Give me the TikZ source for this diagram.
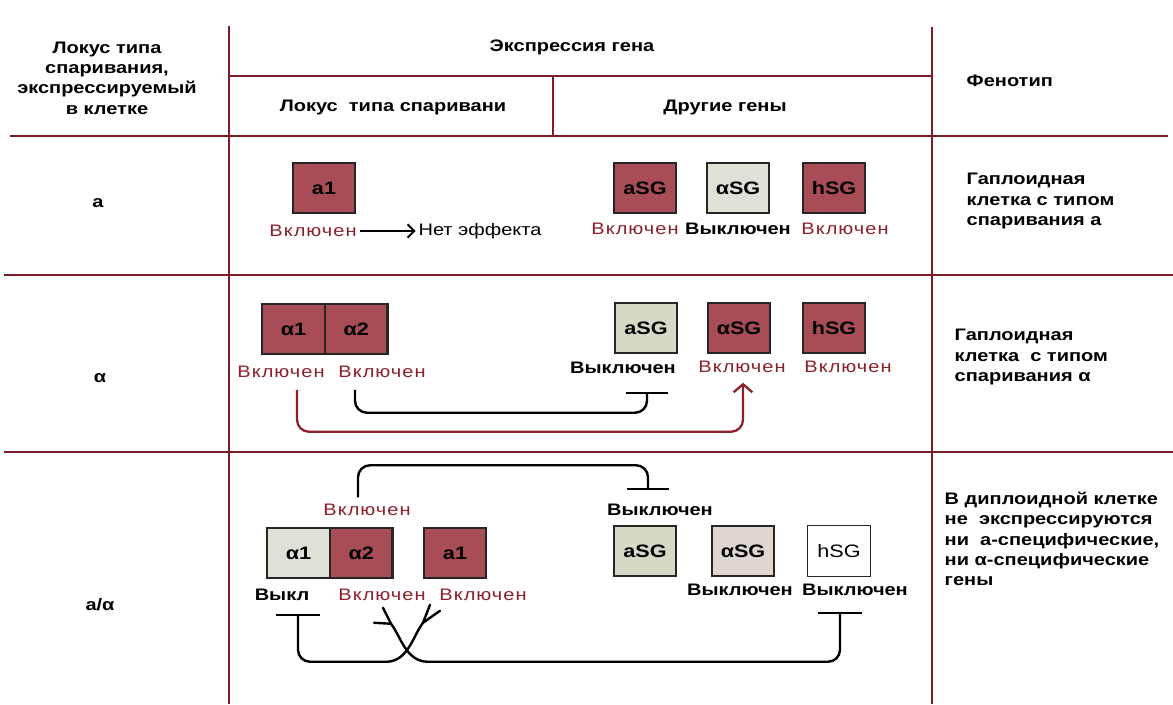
\documentclass[tikz,border=0pt]{standalone}
\usepackage{fontspec}
\setmainfont{Liberation Sans}[FakeStretch=1.2]
\newfontfamily\labfont{Liberation Sans}[FakeStretch=1.2,LetterSpace=6]
\usetikzlibrary{arrows.meta,positioning,calc}
\newcommand\bodysize{\fontsize{12.5}{15.2}\selectfont}
\newcommand\genesize{\fontsize{13.5}{15}\selectfont}
\definecolor{geneRed}{RGB}{168,76,86}
\definecolor{offGrey}{RGB}{222,225,213}
\definecolor{offGreen}{RGB}{213,217,198}
\definecolor{offPink}{RGB}{223,214,208}
\definecolor{labRed}{RGB}{140,32,44}
\definecolor{tabRed}{RGB}{125,28,38}
\tikzset{tab/.style={draw=tabRed,line width=1pt},gene/.style={draw=black!85,line width=1.6pt,minimum width=47pt,minimum height=38pt,inner sep=0pt,font=\genesize\bfseries},genOn/.style={gene,fill=geneRed},genOff/.style={gene,fill=offGrey},onlab/.style={text=labRed,font=\bodysize\labfont,inner sep=2pt},offlab/.style={font=\bodysize\bfseries,inner sep=2pt},hd/.style={font=\bodysize\bfseries,align=center},ph/.style={font=\bodysize\bfseries,align=left,anchor=west},act/.style={draw=labRed,line width=1.7pt,rounded corners=9pt,-{Straight Barb[length=6pt,width=14pt]}},rep/.style={draw=black,line width=1.8pt,rounded corners=9pt,-{Bar[width=32pt]}},fork/.style={draw=black,line width=1.8pt,rounded corners=9pt,-{Bar[width=33pt]}},prong/.style={draw=black,line width=1.8pt,line cap=round},fwd/.style={draw=black,line width=1.4pt,-{Straight Barb[length=5pt,width=10pt]}}}
\begin{document}
\begin{tikzpicture}[x=0.75pt,y=-0.75pt]
\useasboundingbox[fill=white] (0,0) rectangle (1173,704);
\draw[tab] (229,26)--(229,704) (932,27)--(932,704) (229,76)--(932,76) (553,76)--(553,136) (10,136)--(1168,136) (4,275)--(1173,275) (4,452)--(1173,452);
\node[hd] (hLoc) at (107,78) {Локус типа\\спаривания,\\экспрессируемый\\в клетке};
\node[hd] (hExp) at (572,47) {Экспрессия гена};
\node[hd] (hMat) at (393,107) {Локус\ \ типа спаривани};
\node[hd] (hOth) at (725,107) {Другие гены};
\node[ph] (hPhe) at (962,81) {Фенотип};
\node[hd] (rA) at (98,203) {a};
\node[hd] (rAl) at (100,378) {α};
\node[hd] (rD) at (100,605) {a/α};
\node[genOn] (a1A) at (324,188) {a1};
\node[genOn] (sgA1) at (645,188) {aSG};
\node[genOff] (sgA2) at (738,188) {αSG};
\node[genOn] (sgA3) at (834,188) {hSG};
\node[onlab] (la1) at (313,231) {Включен};
\node[font=\bodysize,inner sep=2pt] (lnone) at (480,231) {Нет эффекта};
\draw[fwd] (la1) -- (lnone);
\node[onlab] (lsA1) at (635,229) {Включен};
\node[offlab] (lsA2) at (738,229) {Выключен};
\node[onlab] (lsA3) at (845,229) {Включен};
\node[ph] (pA) at (962,201) {Гаплоидная\\клетка с типом\\спаривания a};
\node[genOn] (al1B) at (293.5,329) {α1};
\node[genOn,right=-1.6pt of al1B] (al2B) {α2};
\node[genOff,fill=offGreen] (sgB1) at (646,328) {aSG};
\node[genOn] (sgB2) at (739,328) {αSG};
\node[genOn] (sgB3) at (834,328) {hSG};
\node[onlab] (lb1) at (281,372) {Включен};
\node[onlab] (lb2) at (382,372) {Включен};
\node[offlab] (lsB1) at (623,368) {Выключен};
\node[onlab] (lsB2) at (742,367) {Включен};
\node[onlab] (lsB3) at (848,367) {Включен};
\draw[act] ($(lb1.south)+(16,9)$) -- ++(0,42) -| ($(lsB2.south)+(1,7)$);
\draw[rep] ($(lb2.south)+(-27,9)$) -- ++(0,23) -| ($(lsB1.south)+(24,15)$);
\node[ph] (pB) at (950,357) {Гаплоидная\\клетка\ \ с типом\\спаривания α};
\node[genOff] (al1C) at (298.5,553) {α1};
\node[genOn,right=-1.6pt of al1C] (al2C) {α2};
\node[genOn] (a1C) at (455,553) {a1};
\node[genOff,fill=offGreen] (sgC1) at (645,551) {aSG};
\node[genOff,fill=offPink] (sgC2) at (743,551) {αSG};
\node[gene,fill=white,line width=1.2pt,font=\genesize] (sgC3) at (839,551) {hSG};
\node[onlab] (lcTop) at (367,510) {Включен};
\node[offlab] (lcOff) at (660,510) {Выключен};
\node[offlab] (lc1) at (282,595) {Выкл};
\node[onlab] (lc2) at (382,595) {Включен};
\node[onlab] (lc3) at (483,595) {Включен};
\node[offlab] (lsC2) at (740,590) {Выключен};
\node[offlab] (lsC3) at (855,590) {Выключен};
\draw[rep] ($(lcTop.north)+(-9,-4)$) -- ++(0,-32) -| ($(lcOff.north)+(-12,-11)$);
\coordinate (fA) at ($(lc2.south)+(9,20)$);
\coordinate (fB) at ($(lc3.south)+(-60,19)$);
\draw[prong] (fA) -- +(-17,-1) (fA) -- +(-8,-16);
\draw[prong] (fB) -- +(17,-12) (fB) -- +(7,-18);
\draw[fork] (fA) .. controls ($(fA)+(10,13)$) and ($(fA)+(15,38)$) .. ($(fA)+(49,38)$) -| ($(lsC3.south)+(-15,13)$);
\draw[fork] (fB) .. controls ($(fB)+(-10,13)$) and ($(fB)+(-15,39)$) .. ($(fB)+(-49,39)$) -| ($(lc1.south)+(16,10)$);
\node[ph] (pC) at (940,539) {В диплоидной клетке\\не\ \ экспрессируются\\ни\ \ a-специфические,\\ни α-специфические\\гены};
\end{tikzpicture}
\end{document}
